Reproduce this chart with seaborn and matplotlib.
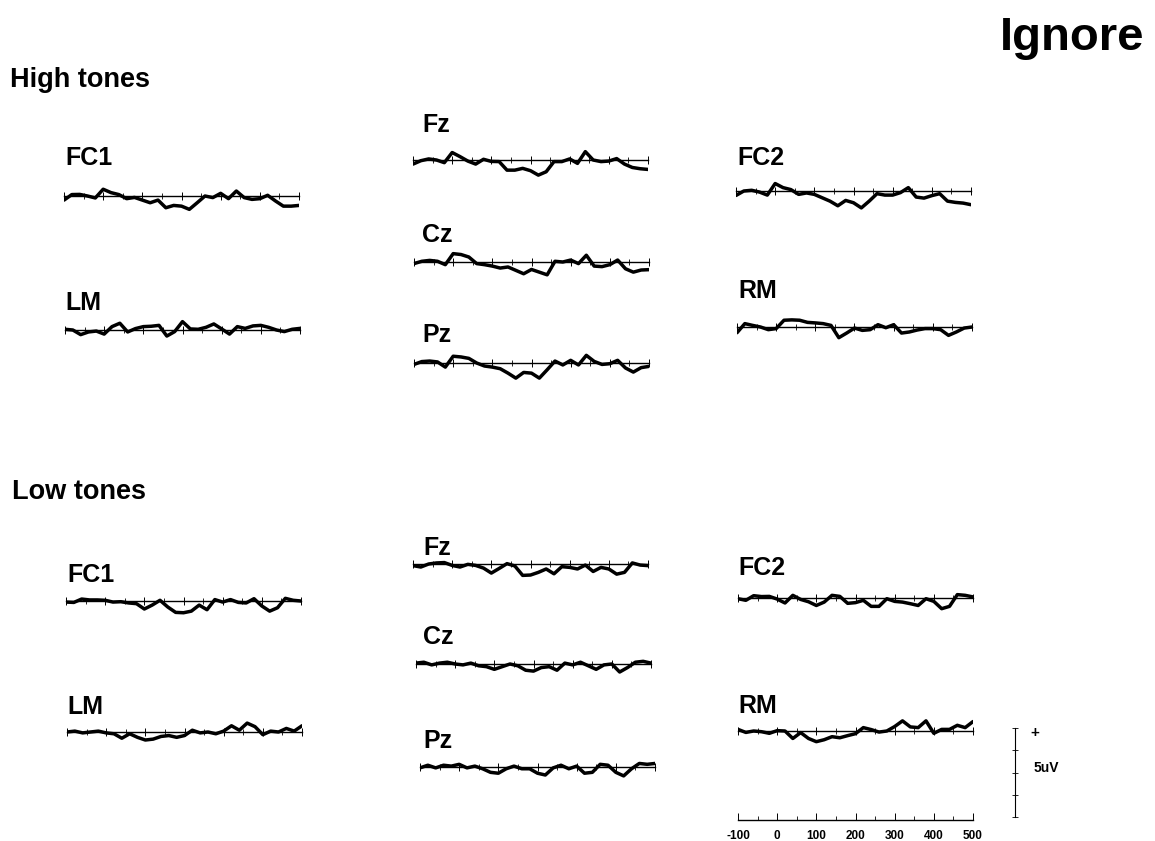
import matplotlib
matplotlib.use('Agg')
import matplotlib.pyplot as plt
from matplotlib.ticker import MultipleLocator
import seaborn as sns
import pandas as pd

W, H = 1155, 841
PX_PER_UV = 17.8  # vertical scale: 5 uV bar is ~89 px tall

times = list(range(-100, 501, 20))

# ---- High tones (uV) ----
high_fc1 = [-0.23, 0.08, 0.09, 0, -0.11, 0.38, 0.19, 0.08, -0.15, -0.08, -0.23, -0.38, -0.23, -0.66, -0.53, -0.57,
            -0.75, -0.38, 0, -0.09, 0.15, -0.15, 0.28, -0.09, -0.19, -0.15, 0.04, -0.28, -0.57, -0.57, -0.53]
high_fz = [-0.23, -0.04, 0.06, 0, -0.15, 0.42, 0.19, -0.06, -0.23, 0.04, -0.08, -0.09, -0.57, -0.57, -0.47, -0.60,
           -0.85, -0.66, -0.09, -0.09, 0.06, -0.19, 0.47, 0, -0.09, -0.06, 0.08, -0.23, -0.42, -0.49, -0.53]
high_cz = [-0.09, 0.04, 0.09, 0.04, -0.15, 0.47, 0.42, 0.28, -0.09, -0.15, -0.23, -0.34, -0.28, -0.47, -0.66, -0.42,
           -0.57, -0.72, 0.04, 0, 0.11, -0.09, 0.38, -0.23, -0.26, -0.15, 0.11, -0.38, -0.57, -0.45, -0.43]
high_pz = [-0.08, 0.08, 0.11, 0.06, -0.23, 0.38, 0.34, 0.26, 0, -0.17, -0.23, -0.32, -0.57, -0.85, -0.53, -0.57,
           -0.85, -0.38, 0.11, -0.11, 0.15, -0.11, 0.43, 0.09, -0.08, -0.04, 0.15, -0.28, -0.51, -0.26, -0.19]
high_lm = [0.04, 0, -0.26, -0.11, -0.06, -0.23, 0.19, 0.38, -0.11, 0.08, 0.19, 0.21, 0.26, -0.34, -0.09, 0.47,
           0.06, 0.04, 0.15, 0.34, 0.06, -0.23, 0.19, 0.09, 0.23, 0.26, 0.15, 0, -0.09, 0.04, 0.09]
high_fc2 = [-0.25, 0, 0.04, -0.06, -0.23, 0.42, 0.19, 0.08, -0.19, -0.11, -0.19, -0.38, -0.57, -0.83, -0.53, -0.66,
            -0.95, -0.57, -0.15, -0.23, -0.23, -0.09, 0.19, -0.34, -0.40, -0.26, -0.15, -0.57, -0.64, -0.68, -0.77]
high_rm = [-0.32, 0.19, 0.09, 0, -0.15, -0.09, 0.38, 0.40, 0.38, 0.26, 0.23, 0.19, 0.09, -0.60, -0.34, -0.06,
           -0.19, -0.15, 0.13, -0.04, 0.13, -0.34, -0.28, -0.17, -0.09, -0.09, -0.15, -0.47, -0.28, -0.06, 0]

# ---- Low tones (uV) ----
low_fc1 = [-0.06, -0.08, 0.11, 0.06, 0.06, 0.04, -0.06, -0.04, -0.11, -0.15, -0.45, -0.23, 0.04, -0.34, -0.64, -0.66,
           -0.57, -0.23, -0.49, 0.08, -0.06, 0.08, -0.08, -0.11, 0.13, -0.28, -0.57, -0.38, 0.15, 0.04, 0]
low_fz = [-0.09, -0.17, 0, 0.06, 0.08, -0.08, -0.17, -0.02, -0.08, -0.23, -0.51, -0.25, 0.02, -0.11, -0.64, -0.62,
          -0.47, -0.28, -0.55, -0.15, -0.19, -0.28, -0.06, -0.42, -0.19, -0.28, -0.57, -0.47, 0.06, -0.06, -0.09]
low_cz = [0.05, 0.1, -0.05, 0.05, 0.1, 0, -0.05, 0.05, -0.1, -0.15, -0.3, -0.15, 0, -0.1, -0.35, -0.4,
          -0.2, -0.15, -0.35, 0.05, -0.05, 0.1, -0.1, -0.3, -0.05, 0, -0.45, -0.2, 0.1, 0.15, 0.05]
low_pz = [-0.05, 0.1, -0.05, 0.1, 0.05, 0.15, -0.05, 0.05, -0.1, -0.3, -0.35, -0.1, 0.05, -0.1, -0.1, -0.35,
          -0.45, -0.05, 0.1, -0.1, 0.05, -0.35, -0.3, 0.15, 0.1, -0.3, -0.5, -0.1, 0.2, 0.15, 0.2]
low_lm = [0, 0.05, -0.05, 0, 0.05, -0.05, -0.1, -0.35, -0.1, -0.3, -0.45, -0.4, -0.25, -0.2, -0.3, -0.2,
          0.1, -0.05, 0, -0.1, 0.05, 0.35, 0.1, 0.5, 0.3, -0.15, 0.05, 0, 0.2, 0.05, 0.35]
low_fc2 = [-0.04, -0.13, 0.13, 0.08, 0.09, -0.06, -0.28, 0.15, -0.08, -0.21, -0.42, -0.23, 0.15, 0.09, -0.30, -0.26,
           -0.13, -0.47, -0.47, -0.04, -0.19, -0.23, -0.32, -0.42, -0.04, -0.19, -0.60, -0.47, 0.19, 0.15, 0.06]
low_rm = [0.09, -0.08, 0, -0.04, -0.13, 0.02, 0, -0.42, -0.09, -0.42, -0.60, -0.49, -0.32, -0.38, -0.26, -0.15,
          0.19, 0.08, -0.06, 0, 0.25, 0.57, 0.23, 0.19, 0.57, -0.13, 0.09, 0.09, 0.32, 0.19, 0.53]

# panel layout in pixels: (values, axis left, baseline y, label, label left, label baseline)
panels = [
    (high_fc1, 64, 196, 'FC1', 65, 165),
    (high_lm, 65, 330, 'LM', 65, 310),
    (high_fz, 413, 160, 'Fz', 422, 132),
    (high_cz, 414, 262, 'Cz', 422, 242),
    (high_pz, 414, 363, 'Pz', 422, 342),
    (high_fc2, 736, 191, 'FC2', 737, 165),
    (high_rm, 737, 327, 'RM', 738, 298),
    (low_fc1, 66, 601, 'FC1', 67, 582),
    (low_lm, 67, 732, 'LM', 67, 714),
    (low_fz, 413, 564, 'Fz', 423, 555),
    (low_cz, 416, 664, 'Cz', 423, 644),
    (low_pz, 420, 767, 'Pz', 423, 748),
    (low_fc2, 738, 598, 'FC2', 738, 575),
    (low_rm, 738, 731, 'RM', 738, 713),
]

sns.set_theme(style='white')
plt.rcParams['font.family'] = ['Liberation Sans', 'DejaVu Sans']
plt.rcParams['axes.unicode_minus'] = False
plt.rcParams['text.color'] = 'black'

fig = plt.figure(figsize=(W / 100, H / 100), dpi=100)
fig.patch.set_facecolor('white')

PANEL_W, PANEL_H = 235, 70


def px_axes(left, baseline, width=PANEL_W, height=PANEL_H):
    return fig.add_axes([left / W, 1 - (baseline + height / 2) / H, width / W, height / H])


def style_baseline(ax, half_uv):
    ax.set_xlim(-100, 500)
    ax.set_ylim(-half_uv, half_uv)
    for s in ['top', 'left', 'right']:
        ax.spines[s].set_visible(False)
    ax.spines['bottom'].set_position(('data', 0))
    ax.spines['bottom'].set_color('black')
    ax.spines['bottom'].set_linewidth(1.0)
    ax.xaxis.set_major_locator(MultipleLocator(100))
    ax.xaxis.set_minor_locator(MultipleLocator(50))
    ax.tick_params(axis='x', which='major', direction='inout', length=6, width=0.7,
                   color='black', labelbottom=False, bottom=True)
    ax.tick_params(axis='x', which='minor', direction='inout', length=4, width=0.6,
                   color='black', bottom=True)
    ax.set_yticks([])
    ax.set_xlabel('')
    ax.set_ylabel('')
    ax.patch.set_alpha(0)


half = PANEL_H / 2 / PX_PER_UV
for vals, left, base, label, lx, ly in panels:
    ax = px_axes(left, base)
    df = pd.DataFrame({'time': times, 'uv': vals})
    sns.lineplot(data=df, x='time', y='uv', ax=ax, color='black', linewidth=2.5,
                 solid_joinstyle='round', solid_capstyle='round')
    style_baseline(ax, half)
    fig.text(lx / W, 1 - ly / H, label, ha='left', va='baseline',
             fontsize=18, fontweight='bold', color='black')

# time axis under the right column
tax = px_axes(738, 820, width=235, height=20)
style_baseline(tax, 1)
tax.tick_params(axis='x', which='major', labelbottom=True, labelsize=8.5, pad=7,
                labelcolor='black')
tax.tick_params(axis='x', which='major', direction='in', length=5)
tax.tick_params(axis='x', which='minor', direction='in', length=3)
for t in tax.get_xticklabels():
    t.set_fontweight('bold')

# vertical 5 uV scale bar
bar_top, bar_bot = 728, 817
sax = fig.add_axes([1005 / W, 1 - bar_bot / H, 20 / W, (bar_bot - bar_top) / H])
sax.set_ylim(0, 5)
sax.set_xlim(0, 1)
for s in ['top', 'bottom', 'right']:
    sax.spines[s].set_visible(False)
sax.spines['left'].set_position(('data', 0.5))
sax.spines['left'].set_color('black')
sax.spines['left'].set_linewidth(0.8)
sax.yaxis.set_major_locator(MultipleLocator(1.25))
sax.tick_params(axis='y', direction='inout', length=5, width=0.6, labelleft=False, left=True,
                color='black')
sax.set_xticks([])
sax.patch.set_alpha(0)
fig.text(1030 / W, 1 - 737 / H, '+', ha='left', va='baseline', fontsize=11, fontweight='bold',
         color='black')
fig.text(1034 / W, 1 - 768 / H, '5uV', ha='left', va='center', fontsize=10, fontweight='bold',
         color='black')

# headings
fig.text(1000 / W, 1 - 50 / H, 'Ignore', ha='left', va='baseline', fontsize=34, fontweight='bold',
         color='black')
fig.text(10 / W, 1 - 87 / H, 'High tones', ha='left', va='baseline', fontsize=19.5, fontweight='bold',
         color='black')
fig.text(12 / W, 1 - 499 / H, 'Low tones', ha='left', va='baseline', fontsize=19.5, fontweight='bold',
         color='black')

fig.savefig('out.png', dpi=100, facecolor='white')
